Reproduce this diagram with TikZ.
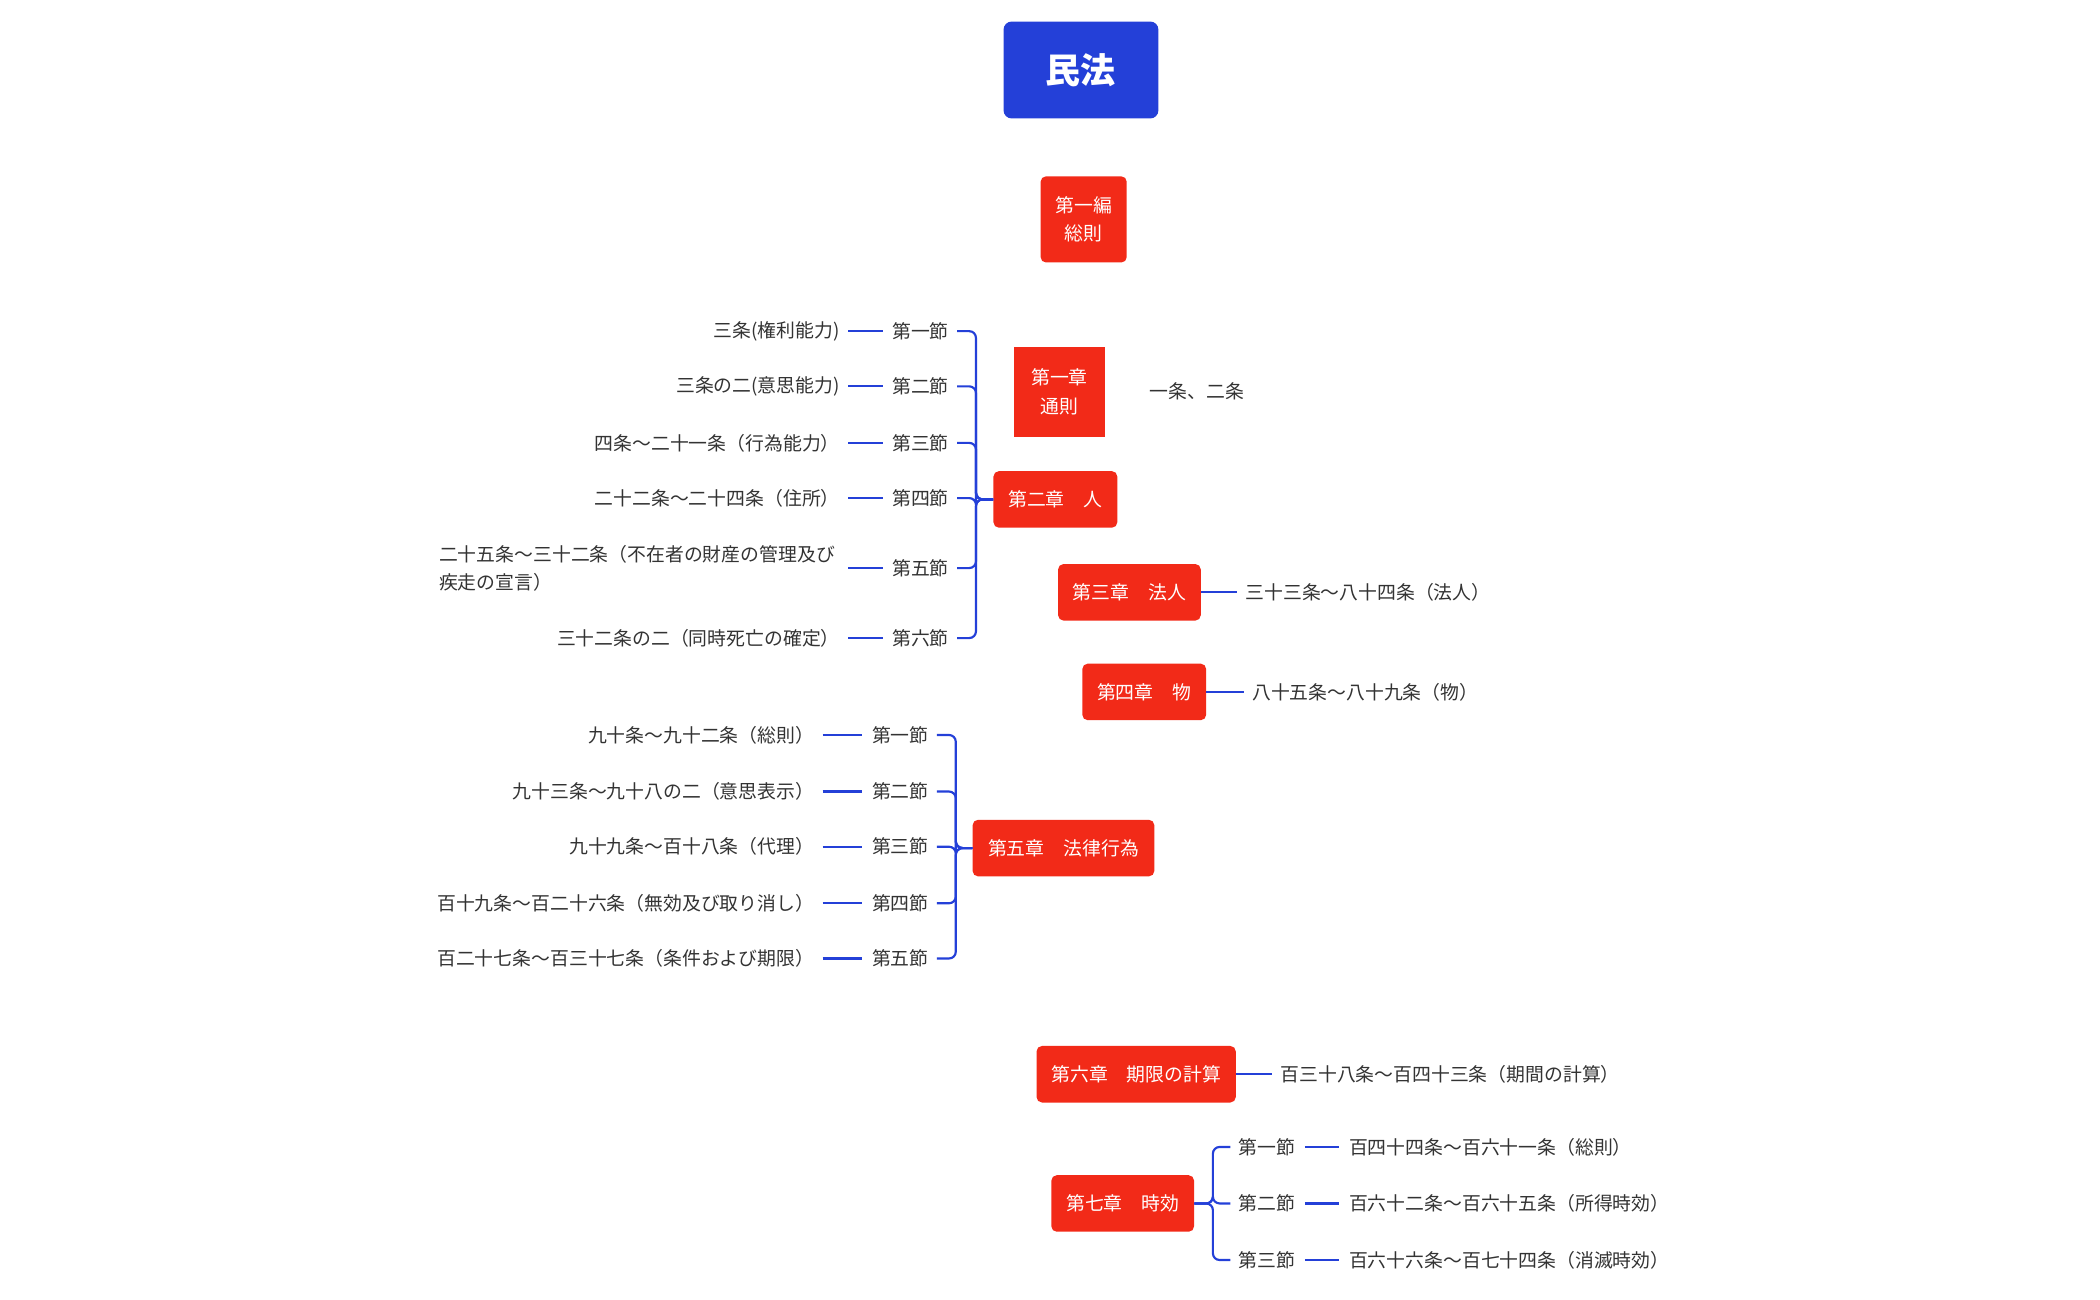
\documentclass[tikz,border=0pt]{standalone}
\usepackage{fontspec}
\setmainfont{Noto Sans CJK JP}
\begin{document}
\begin{tikzpicture}[x=1pt,y=-1pt,
 red/.style={fill=red!75!orange!90!black,fill=myred,text=white,font=\fontsize{14}{21}\selectfont,rounded corners=4,inner sep=0,align=center},
 lbl/.style={font=\fontsize{14}{21}\selectfont,text=black!80,inner sep=0},
 con/.style={draw=myblue,line width=1.6pt},
 gap/.style={shorten <=6pt,shorten >=7pt}]
\definecolor{myred}{HTML}{F22A18}
\definecolor{myblue}{HTML}{2440D8}
\useasboundingbox (0,0) rectangle (1560,965);
\node[fill=myblue,rounded corners=6,minimum width=115,minimum height=72,text=white,font=\fontsize{26}{30}\bfseries\selectfont] (root) at (803,52) {民法};
\node[red,minimum width=64,minimum height=64] (hen) at (805,163) {第一編\\総則};
\node[red,rounded corners=0,minimum width=68,minimum height=67] (c1) at (787,291) {第一章\\通則};
\node[lbl,anchor=west] (c1t) at (854,291) {一条、二条};
\node[red,minimum width=92,minimum height=42] (c2) at (784,371) {第二章　人};
\coordinate (b2) at (725,371);
\foreach \i/\y/\s/\t in {1/246/第一節/三条(権利能力),2/287/第二節/三条の二(意思能力),3/329/第三節/四条～二十一条（行為能力）,4/370/第四節/二十二条～二十四条（住所）,6/474/第六節/三十二条の二（同時死亡の確定）}{
 \node[lbl,anchor=east] (s2\i) at (705,\y) {\s};
 \node[lbl,anchor=east] (t2\i) at (624,\y) {\t};
 \draw[con,gap] (t2\i.east) -- (s2\i.west);
 \draw[con,rounded corners=5] (c2.west) -- (b2) |- ([xshift=6pt]s2\i.east);
}
\node[lbl,anchor=east] (s25) at (705,422) {第五節};
\node[lbl,anchor=west,align=left] (t25) at (326,422) {二十五条～三十二条（不在者の財産の管理及び\\疾走の宣言）};
\draw[con] (630,422) -- ([xshift=-7pt]s25.west);
\draw[con,rounded corners=5] (c2.west) -- (b2) |- ([xshift=6pt]s25.east);
\node[red,minimum width=106,minimum height=42] (c3) at (839,440) {第三章　法人};
\node[lbl,anchor=west] (c3t) at (925,440) {三十三条～八十四条（法人）};
\draw[con] (c3.east) -- ([xshift=-6pt]c3t.west);
\node[red,minimum width=92,minimum height=42] (c4) at (850,514) {第四章　物};
\node[lbl,anchor=west] (c4t) at (930,514) {八十五条～八十九条（物）};
\draw[con] (c4.east) -- ([xshift=-6pt]c4t.west);
\node[red,minimum width=135,minimum height=42] (c5) at (790,630) {第五章　法律行為};
\coordinate (b5) at (710,630);
\foreach \i/\y/\s/\t in {1/546/第一節/九十条～九十二条（総則）,2/588/第二節/九十三条～九十八の二（意思表示）,3/629/第三節/九十九条～百十八条（代理）,4/671/第四節/百十九条～百二十六条（無効及び取り消し）,5/712/第五節/百二十七条～百三十七条（条件および期限）}{
 \node[lbl,anchor=east] (s5\i) at (690,\y) {\s};
 \node[lbl,anchor=east] (t5\i) at (605,\y) {\t};
 \draw[con,gap] (t5\i.east) -- (s5\i.west);
 \draw[con,rounded corners=5] (c5.west) -- (b5) |- ([xshift=6pt]s5\i.east);
}
\node[red,minimum width=148,minimum height=42] (c6) at (844,798) {第六章　期限の計算};
\node[lbl,anchor=west] (c6t) at (951,798) {百三十八条～百四十三条（期間の計算）};
\draw[con] (c6.east) -- ([xshift=-6pt]c6t.west);
\node[red,minimum width=106,minimum height=42] (c7) at (834,894) {第七章　時効};
\coordinate (b7) at (901,894);
\foreach \i/\y/\s/\t in {1/852/第一節/百四十四条～百六十一条（総則）,2/894/第二節/百六十二条～百六十五条（所得時効）,3/936/第三節/百六十六条～百七十四条（消滅時効）}{
 \node[lbl,anchor=west] (s7\i) at (920,\y) {\s};
 \node[lbl,anchor=west] (t7\i) at (1002,\y) {\t};
 \draw[con,shorten <=7pt,shorten >=7pt] (s7\i.east) -- (t7\i.west);
 \draw[con,rounded corners=5] (c7.east) -- (b7) |- ([xshift=-6pt]s7\i.west);
}
\end{tikzpicture}
\end{document}
